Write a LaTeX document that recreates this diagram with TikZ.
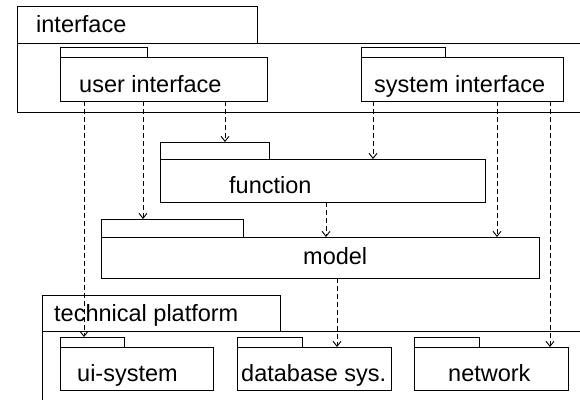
\documentclass[tikz,border=0pt]{standalone}
\usepackage{fontspec}
\setmainfont{Liberation Sans}
\usetikzlibrary{arrows.meta}
\begin{document}
\begin{tikzpicture}[x=1pt,y=-1pt,
  box/.style={draw, line width=1pt, inner sep=0pt, outer sep=0pt, anchor=north west},
  lbl/.style={inner sep=0pt, anchor=base west, font=\fontsize{23.5}{27}\selectfont},
  dep/.style={draw, line width=0.9pt, dash pattern=on 5pt off 3pt, -{Straight Barb[length=5pt,width=8pt]}}]
\useasboundingbox (0,0) rectangle (580,399);
% containers
\node[box, minimum width=600pt, minimum height=69pt] (ifb) at (17,43) {};
\node[box, minimum width=240pt, minimum height=37pt] (ift) at (17,6) {};
\node[lbl] (ifl) at (36,32.5) {interface};
\node[box, minimum width=600pt, minimum height=100pt] (tpb) at (42,331) {};
\node[box, minimum width=238pt, minimum height=36pt] (tpt) at (42,295) {};
\node[lbl] (tpl) at (54,321) {technical platform};
% user interface
\node[box, minimum width=87pt, minimum height=10pt] (uit) at (60,47) {};
\node[box, minimum width=207pt, minimum height=44pt] (uib) at (60,57) {};
\node[lbl] (uil) at (79,92) {user interface};
% system interface
\node[box, minimum width=84pt, minimum height=10pt] (sit) at (361,47) {};
\node[box, minimum width=202pt, minimum height=44pt] (sib) at (361,57) {};
\node[lbl] (sil) at (374,92) {system interface};
% function
\node[box, minimum width=109pt, minimum height=17pt] (fnt) at (160,142) {};
\node[box, minimum width=325pt, minimum height=43pt] (fnb) at (160,159) {};
\node[lbl] (fnl) at (229,193) {function};
% model
\node[box, minimum width=142pt, minimum height=18pt] (mdt) at (101,219) {};
\node[box, minimum width=438pt, minimum height=41pt] (mdb) at (101,237) {};
\node[lbl] (mdl) at (303,264) {model};
% ui-system
\node[box, minimum width=64pt, minimum height=10pt] (ust) at (60,337) {};
\node[box, minimum width=153pt, minimum height=43pt] (usb) at (60,347) {};
\node[lbl] (usl) at (77,381) {ui-system};
% database
\node[box, minimum width=65pt, minimum height=10pt] (dbt) at (237,337) {};
\node[box, minimum width=154pt, minimum height=43pt] (dbb) at (237,347) {};
\node[lbl] (dbl) at (241,381) {database sys.};
% network
\node[box, minimum width=65pt, minimum height=10pt] (nwt) at (414,337) {};
\node[box, minimum width=154pt, minimum height=43pt] (nwb) at (414,347) {};
\node[lbl] (nwl) at (448,381) {network};
% dependencies
\draw[dep] ([xshift=24pt]uib.south west) -- ([xshift=24pt]ust.north west);
\draw[dep] ([xshift=83pt]uib.south west) -- ([xshift=42pt]mdt.north west);
\draw[dep] ([xshift=165pt]uib.south west) -- ([xshift=65pt]fnt.north west);
\draw[dep] ([xshift=12pt]sib.south west) -- ([xshift=213pt]fnb.north west);
\draw[dep] ([xshift=136pt]sib.south west) -- ([xshift=396pt]mdb.north west);
\draw[dep] ([xshift=189pt]sib.south west) -- ([xshift=136pt]nwb.north west);
\draw[dep] ([xshift=166pt]fnb.south west) -- ([xshift=225pt]mdb.north west);
\draw[dep] ([xshift=236pt]mdb.south west) -- ([xshift=100pt]dbb.north west);
\end{tikzpicture}
\end{document}
